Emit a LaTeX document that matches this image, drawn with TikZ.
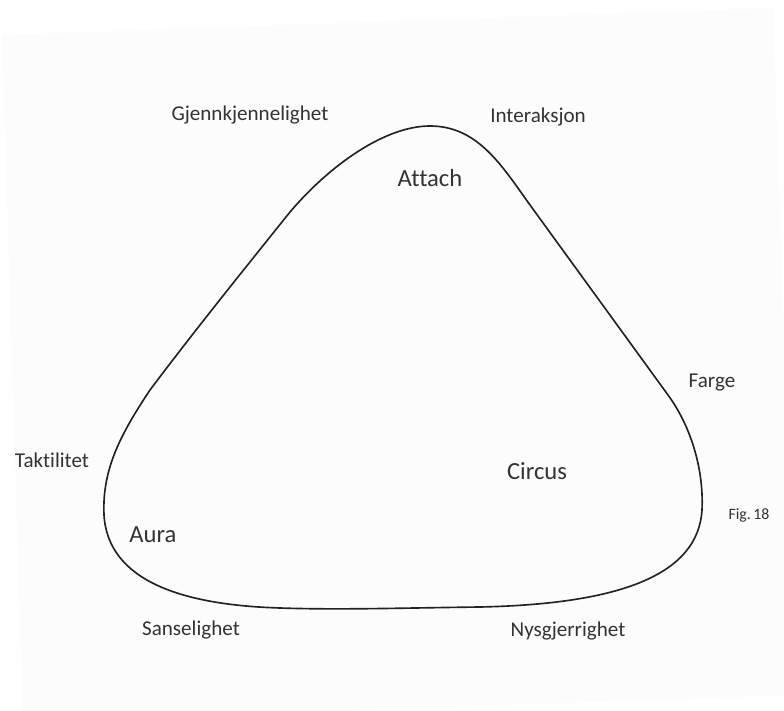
\documentclass[tikz,border=0pt]{standalone}
\usepackage{fontspec}
\setmainfont[Ligatures=NoCommon]{Carlito}
\usepackage{tikz}

\definecolor{inkgray}{HTML}{333333}
\definecolor{linegray}{HTML}{222222}
\definecolor{paper}{HTML}{FCFCFC}

\tikzset{
	label/.style={text=inkgray, inner sep=0pt, font=\fontsize{18}{20}\selectfont},
	bigl/.style={text=inkgray, inner sep=0pt, font=\fontsize{21}{24}\selectfont},
	figl/.style={text=inkgray, inner sep=0pt, font=\fontsize{13.5}{16}\selectfont},
	outline/.style={draw=linegray, line width=1.4pt, line join=round}
}

\begin{document}
\begin{tikzpicture}[x=0.03cm, y=-0.03cm]

		% Page and slightly tilted paper
		\useasboundingbox (0,0) rectangle (784,711);
		\fill[paper] (2,35) -- (773,8) -- (796,695) -- (23,722) -- cycle;

		% --- Rounded triangle ---
		\draw[outline] (430,126) .. controls (478,126) and (502,166) .. (530,205)
			-- (668,395) .. controls (690,425) and (704,468) .. (702,510)
			.. controls (698,575) and (620,604) .. (480,607)
			.. controls (400,608) and (340,610) .. (280,608)
			.. controls (180,605) and (108,580) .. (104,515)
			.. controls (102,470) and (120,435) .. (150,390)
			.. controls (195,330) and (250,262) .. (290,212)
			.. controls (330,165) and (385,126) .. (430,126) -- cycle;

		% --- Corner names ---
		\node[bigl] (attach) at (430,178) {Attach};
		\node[bigl] (circus) at (537,471) {Circus};
		\node[bigl] (aura) at (153,535) {Aura};

		% --- Labels round the outside ---
		\node[label] (gjenn) at (250,115) {Gjennkjennelighet};
		\node[label] (inter) at (538,117) {Interaksjon};
		\node[label] (farge) at (712,383) {Farge};
		\node[label] (taktil) at (52,460) {Taktilitet};
		\node[label] (sanse) at (191,630) {Sanselighet};
		\node[label] (nysgj) at (568,631) {Nysgjerrighet};

		\node[figl] (fig) at (749,515) {Fig.\,18};

	\end{tikzpicture}
\end{document}
